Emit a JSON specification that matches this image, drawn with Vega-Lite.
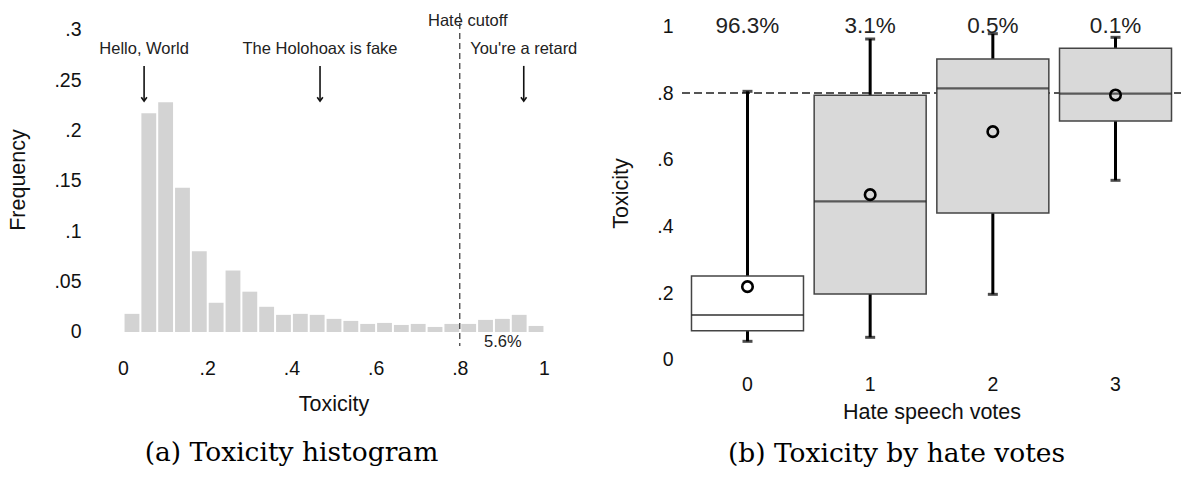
{
  "$schema": "https://vega.github.io/schema/vega-lite/v6.json",
  "background": "white",
  "padding": {"left": 7, "top": 12, "right": 0, "bottom": 0},
  "bounds": "flush",
  "spacing": 116,
  "config": {
    "font": "Liberation Sans",
    "view": {"stroke": null},
    "axis": {
      "grid": false,
      "domain": false,
      "ticks": false,
      "labelColor": "#111",
      "titleColor": "#111",
      "labelFont": "Liberation Sans",
      "titleFont": "Liberation Sans",
      "titleFontWeight": "normal",
      "labelFlush": false,
      "labelOverlap": false
    },
    "title": {"font": "DejaVu Serif", "fontWeight": "normal", "fontSize": 26.5, "color": "#000"}
  },
  "datasets": {
    "hist": [
      {"bin_start": 0.00, "bin_end": 0.04, "frequency": 0.018},
      {"bin_start": 0.04, "bin_end": 0.08, "frequency": 0.217},
      {"bin_start": 0.08, "bin_end": 0.12, "frequency": 0.228},
      {"bin_start": 0.12, "bin_end": 0.16, "frequency": 0.143},
      {"bin_start": 0.16, "bin_end": 0.20, "frequency": 0.080},
      {"bin_start": 0.20, "bin_end": 0.24, "frequency": 0.029},
      {"bin_start": 0.24, "bin_end": 0.28, "frequency": 0.061},
      {"bin_start": 0.28, "bin_end": 0.32, "frequency": 0.040},
      {"bin_start": 0.32, "bin_end": 0.36, "frequency": 0.025},
      {"bin_start": 0.36, "bin_end": 0.40, "frequency": 0.017},
      {"bin_start": 0.40, "bin_end": 0.44, "frequency": 0.018},
      {"bin_start": 0.44, "bin_end": 0.48, "frequency": 0.017},
      {"bin_start": 0.48, "bin_end": 0.52, "frequency": 0.013},
      {"bin_start": 0.52, "bin_end": 0.56, "frequency": 0.011},
      {"bin_start": 0.56, "bin_end": 0.60, "frequency": 0.008},
      {"bin_start": 0.60, "bin_end": 0.64, "frequency": 0.009},
      {"bin_start": 0.64, "bin_end": 0.68, "frequency": 0.007},
      {"bin_start": 0.68, "bin_end": 0.72, "frequency": 0.008},
      {"bin_start": 0.72, "bin_end": 0.76, "frequency": 0.005},
      {"bin_start": 0.76, "bin_end": 0.80, "frequency": 0.008},
      {"bin_start": 0.80, "bin_end": 0.84, "frequency": 0.008},
      {"bin_start": 0.84, "bin_end": 0.88, "frequency": 0.012},
      {"bin_start": 0.88, "bin_end": 0.92, "frequency": 0.013},
      {"bin_start": 0.92, "bin_end": 0.96, "frequency": 0.017},
      {"bin_start": 0.96, "bin_end": 1.00, "frequency": 0.006}
    ],
    "examples": [
      {"text": "Hello, World", "toxicity": 0.05},
      {"text": "The Holohoax is fake", "toxicity": 0.468},
      {"text": "You're a retard", "toxicity": 0.952}
    ],
    "cutoff": [
      {"label": "Hate cutoff", "toxicity": 0.8, "share_above": 0.056}
    ],
    "box": [
      {"votes": "0", "lower": 0.055, "q1": 0.087, "median": 0.134, "q3": 0.251, "upper": 0.805, "mean": 0.219, "share": 0.963},
      {"votes": "1", "lower": 0.067, "q1": 0.197, "median": 0.475, "q3": 0.793, "upper": 0.962, "mean": 0.495, "share": 0.031},
      {"votes": "2", "lower": 0.196, "q1": 0.440, "median": 0.814, "q3": 0.902, "upper": 0.978, "mean": 0.684, "share": 0.005},
      {"votes": "3", "lower": 0.538, "q1": 0.716, "median": 0.798, "q3": 0.934, "upper": 0.967, "mean": 0.794, "share": 0.001}
    ]
  },
  "hconcat": [
    {
      "width": 463,
      "height": 333,
      "title": {"text": "(a) Toxicity histogram", "orient": "bottom", "anchor": "middle", "frame": "group", "dx": -42, "offset": 25},
      "layer": [
        {
          "data": {"name": "hist"},
          "mark": {"type": "bar", "color": "#d3d3d3", "binSpacing": 2},
          "encoding": {
            "x": {
              "field": "bin_start", "type": "quantitative",
              "bin": {"binned": true, "step": 0.04},
              "scale": {"domain": [-0.05, 1.05], "nice": false, "zero": false},
              "axis": {
                "title": "Toxicity",
                "values": [0, 0.2, 0.4, 0.6, 0.8, 1],
                "labelExpr": "replace(format(datum.value, '.2~f'), '0.', '.')",
                "labelFontSize": 19.5, "titleFontSize": 21.5,
                "labelPadding": 13, "titlePadding": 16
              }
            },
            "x2": {"field": "bin_end"},
            "y": {
              "field": "frequency", "type": "quantitative",
              "scale": {"domain": [-0.0139, 0.3165], "nice": false, "zero": false},
              "axis": {
                "title": "Frequency",
                "values": [0, 0.05, 0.1, 0.15, 0.2, 0.25, 0.3],
                "labelExpr": "replace(format(datum.value, '.2~f'), '0.', '.')",
                "labelFontSize": 19.5, "titleFontSize": 21.5,
                "labelPadding": 21, "titlePadding": 24
              }
            },
            "y2": {"datum": 0}
          }
        },
        {
          "data": {"name": "cutoff"},
          "mark": {"type": "rule", "color": "#333", "strokeWidth": 1.2, "strokeDash": [6, 4]},
          "encoding": {"x": {"field": "toxicity", "type": "quantitative"}}
        },
        {
          "data": {"name": "cutoff"},
          "mark": {"type": "text", "fontSize": 16.5, "color": "#222", "align": "center", "baseline": "middle", "dx": 8},
          "encoding": {
            "x": {"field": "toxicity", "type": "quantitative"},
            "y": {"datum": 0.309},
            "text": {"field": "label"}
          }
        },
        {
          "data": {"name": "cutoff"},
          "mark": {"type": "text", "fontSize": 16.5, "color": "#222", "align": "center", "baseline": "middle", "dx": 43},
          "encoding": {
            "x": {"field": "toxicity", "type": "quantitative"},
            "y": {"datum": -0.0095},
            "text": {"field": "share_above", "format": ".1%"}
          }
        },
        {
          "data": {"name": "examples"},
          "mark": {"type": "text", "fontSize": 16.5, "color": "#222", "align": "center", "baseline": "middle"},
          "encoding": {
            "x": {"field": "toxicity", "type": "quantitative"},
            "y": {"datum": 0.281},
            "text": {"field": "text"}
          }
        },
        {
          "data": {"name": "examples"},
          "mark": {"type": "rule", "color": "#111", "strokeWidth": 1.6},
          "encoding": {
            "x": {"field": "toxicity", "type": "quantitative"},
            "y": {"datum": 0.264},
            "y2": {"datum": 0.23}
          }
        },
        {
          "data": {"name": "examples"},
          "mark": {"type": "point", "shape": "M-0.7,-1L0,0L0.7,-1", "filled": false, "stroke": "#111", "strokeWidth": 1.6, "size": 64, "opacity": 1},
          "encoding": {
            "x": {"field": "toxicity", "type": "quantitative"},
            "y": {"datum": 0.229}
          }
        }
      ]
    },
    {
      "width": 501,
      "height": 360,
      "title": {"text": "(b) Toxicity by hate votes", "orient": "bottom", "anchor": "middle", "frame": "group", "dx": -35, "offset": 18},
      "data": {"name": "box"},
      "layer": [
        {
          "mark": {"type": "rule", "color": "#555", "strokeWidth": 1.3, "strokeDash": [8, 4]},
          "encoding": {
            "y": {"datum": 0.8, "scale": {"domain": [-0.04, 1.04], "nice": false, "zero": false}}
          }
        },
        {
          "mark": {"type": "rule", "color": "#000", "strokeWidth": 3},
          "encoding": {
            "x": {
              "field": "votes", "type": "nominal",
              "scale": {"type": "band", "paddingInner": 0, "paddingOuter": 0.042},
              "axis": {
                "title": "Hate speech votes", "labelAngle": 0,
                "labelFontSize": 19.5, "titleFontSize": 21.5,
                "labelPadding": 2, "titlePadding": 8
              }
            },
            "y": {
              "field": "lower", "type": "quantitative",
              "scale": {"domain": [-0.04, 1.04], "nice": false, "zero": false},
              "axis": {
                "title": "Toxicity",
                "values": [0, 0.2, 0.4, 0.6, 0.8, 1],
                "labelExpr": "replace(format(datum.value, '.1~f'), '0.', '.')",
                "labelFontSize": 19.5, "titleFontSize": 21.5,
                "labelPadding": 8, "titlePadding": 24
              }
            },
            "y2": {"field": "upper"}
          }
        },
        {
          "mark": {"type": "tick", "color": "#000", "size": 10, "thickness": 3},
          "encoding": {
            "x": {"field": "votes", "type": "nominal"},
            "y": {"field": "lower", "type": "quantitative"}
          }
        },
        {
          "mark": {"type": "tick", "color": "#000", "size": 10, "thickness": 3},
          "encoding": {
            "x": {"field": "votes", "type": "nominal"},
            "y": {"field": "upper", "type": "quantitative"}
          }
        },
        {
          "mark": {"type": "bar", "size": 112, "stroke": "#444", "strokeWidth": 1.5},
          "encoding": {
            "x": {"field": "votes", "type": "nominal"},
            "y": {"field": "q1", "type": "quantitative"},
            "y2": {"field": "q3"},
            "fill": {"condition": {"test": "datum.votes === '0'", "value": "#ffffff"}, "value": "#d9d9d9"}
          }
        },
        {
          "mark": {"type": "tick", "color": "#222", "size": 112, "thickness": 2.2},
          "encoding": {
            "x": {"field": "votes", "type": "nominal"},
            "y": {"field": "median", "type": "quantitative"}
          }
        },
        {
          "mark": {"type": "point", "shape": "circle", "filled": false, "stroke": "#000", "strokeWidth": 2.6, "size": 110, "opacity": 1},
          "encoding": {
            "x": {"field": "votes", "type": "nominal"},
            "y": {"field": "mean", "type": "quantitative"}
          }
        },
        {
          "mark": {"type": "text", "fontSize": 22.5, "color": "#222", "baseline": "middle"},
          "encoding": {
            "x": {"field": "votes", "type": "nominal"},
            "y": {"datum": 1.0},
            "text": {"field": "share", "format": ".1%"}
          }
        }
      ]
    }
  ]
}
